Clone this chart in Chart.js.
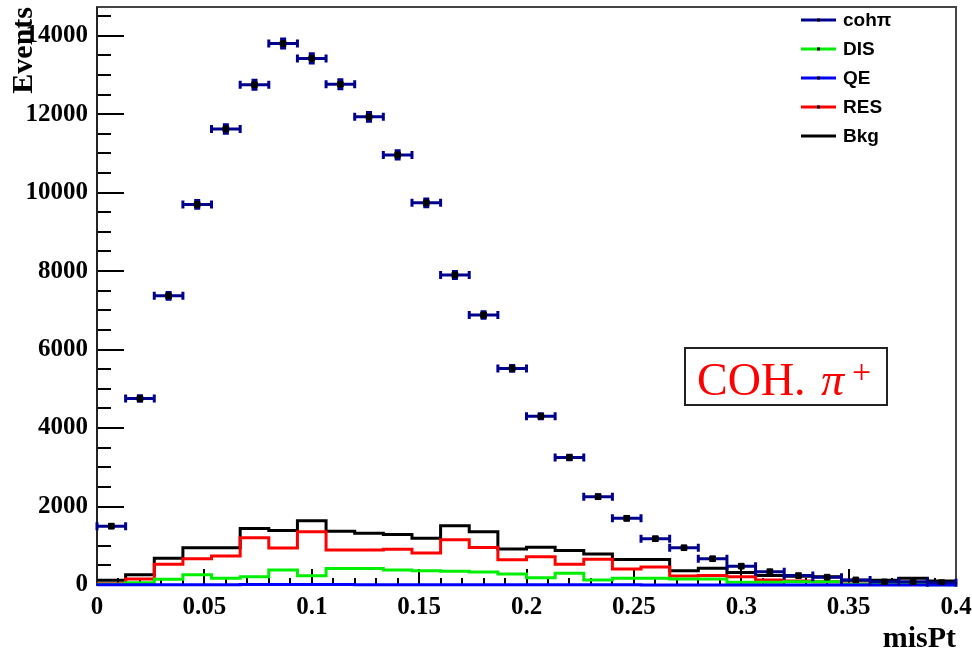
<!DOCTYPE html>
<html lang="en">
<head>
    <meta charset="UTF-8">
    <title>misPt</title>
    <script src="https://cdn.jsdelivr.net/npm/chart.js"></script>
    <style>
        body { margin: 0; background: #fff; }
        #chart { display: block; }
    </style>
</head>
<body>
    <canvas id="chart" width="972" height="657"></canvas>
    <script>
        // misPt binning: 30 bins between 0 and 0.4
        const binEdges = [0, 0.01333, 0.02667, 0.04, 0.05333, 0.06667, 0.08, 0.09333, 0.10667, 0.12,
                          0.13333, 0.14667, 0.16, 0.17333, 0.18667, 0.2, 0.21333, 0.22667, 0.24, 0.25333,
                          0.26667, 0.28, 0.29333, 0.30667, 0.32, 0.33333, 0.34667, 0.36, 0.37333, 0.38667, 0.4];

        // coherent pion sample (points with errors)
        const cohPi    = [1500, 4750, 7370, 9700, 11620, 12750, 13800, 13420, 12760, 11930,
                          10960, 9740, 7900, 6880, 5520, 4300, 3250, 2250, 1700, 1180,
                          950, 670, 480, 340, 240, 200, 130, 80, 80, 60];
        const cohPiErr = [40, 70, 86, 98, 108, 113, 117, 116, 113, 109,
                          105, 99, 89, 83, 74, 66, 57, 47, 41, 34,
                          31, 26, 22, 18, 15, 14, 11, 9, 9, 8];

        // backgrounds
        const dis = [20, 60, 145, 260, 170, 212, 380, 237, 420, 420,
                     380, 365, 350, 330, 280, 187, 297, 127, 170, 175,
                     153, 153, 70, 70, 85, 80, 20, 15, 10, 5];
        const qe  = [4, 5, 6, 8, 8, 10, 10, 10, 10, 8,
                     8, 8, 6, 6, 5, 5, 4, 4, 4, 3,
                     3, 3, 2, 2, 2, 2, 1, 1, 1, 1];
        const res = [30, 150, 530, 670, 740, 1206, 940, 1358, 890, 890,
                     910, 815, 1155, 955, 645, 722, 527, 655, 410, 460,
                     230, 240, 210, 127, 100, 85, 25, 15, 42, 20];
        const bkg = [120, 260, 680, 950, 950, 1440, 1390, 1640, 1370, 1320,
                     1290, 1190, 1510, 1360, 920, 960, 880, 790, 650, 650,
                     365, 425, 320, 240, 220, 210, 120, 120, 170, 100];

        // tick labels
        const xTicks = [0, 0.05, 0.1, 0.15, 0.2, 0.25, 0.3, 0.35, 0.4];
        const yTicks = [0, 2000, 4000, 6000, 8000, 10000, 12000, 14000];
        const yMax = 14730;

        const serif = "'Liberation Serif', 'Times New Roman', serif";
        const sans = "'Liberation Sans', Arial, sans-serif";
        const navy = '#00008f';

        const binCenters = binEdges.slice(0, -1).map((e, i) => (e + binEdges[i + 1]) / 2);

        // histogram as a step line: one point per left edge plus the closing edge
        function stepData(values) {
            const pts = values.map((v, i) => ({ x: binEdges[i], y: v }));
            pts.push({ x: binEdges[binEdges.length - 1], y: values[values.length - 1] });
            return pts;
        }

        function histo(label, values, color, order) {
            return {
                label: label,
                data: stepData(values),
                borderColor: color,
                backgroundColor: color,
                borderWidth: 3,
                borderJoinStyle: 'miter',
                stepped: 'before',
                pointRadius: 0,
                fill: false,
                clip: 3,
                order: order
            };
        }

        // axis frame and inward ticks
        const frame = {
            id: 'frame',
            beforeDatasetsDraw(chart) {
                const { ctx, chartArea: a, scales: { x, y } } = chart;
                ctx.save();
                ctx.strokeStyle = '#000';
                ctx.lineWidth = 2;
                ctx.beginPath();
                for (let v = 0; v <= yMax; v += 500) {
                    const py = Math.round(y.getPixelForValue(v));
                    const len = v % 2000 === 0 ? 27 : 14;
                    ctx.moveTo(a.left, py);
                    ctx.lineTo(a.left + len, py);
                }
                for (let k = 0; k <= 40; k++) {
                    const px = Math.round(x.getPixelForValue(k / 100));
                    const len = k % 5 === 0 ? 16 : 7;
                    ctx.moveTo(px, a.bottom);
                    ctx.lineTo(px, a.bottom - len);
                }
                ctx.stroke();

                ctx.strokeStyle = '#444';
                ctx.strokeRect(a.left, a.top, a.width, a.height);
                ctx.strokeStyle = '#222';
                ctx.beginPath();
                ctx.moveTo(a.left, a.top);
                ctx.lineTo(a.left, a.bottom);
                ctx.lineTo(a.right, a.bottom);
                ctx.stroke();
                ctx.restore();
            }
        };

        // horizontal (bin width) and vertical (stat.) error bars for the points
        const errorBars = {
            id: 'errorBars',
            beforeDatasetDraw(chart, args) {
                if (args.index !== 0) return;
                const { ctx, scales: { x, y } } = chart;
                ctx.save();
                ctx.strokeStyle = navy;
                ctx.lineWidth = 3;
                ctx.beginPath();
                cohPi.forEach((v, i) => {
                    const x0 = x.getPixelForValue(binEdges[i]);
                    const x1 = x.getPixelForValue(binEdges[i + 1]);
                    const xc = x.getPixelForValue(binCenters[i]);
                    const yc = y.getPixelForValue(v);
                    const yl = y.getPixelForValue(v - cohPiErr[i]);
                    const yh = y.getPixelForValue(v + cohPiErr[i]);
                    ctx.moveTo(x0, yc); ctx.lineTo(x1, yc);
                    ctx.moveTo(x0, yc - 4); ctx.lineTo(x0, yc + 4);
                    ctx.moveTo(x1, yc - 4); ctx.lineTo(x1, yc + 4);
                    ctx.moveTo(xc, yl); ctx.lineTo(xc, yh);
                    ctx.moveTo(xc - 3, yl); ctx.lineTo(xc + 3, yl);
                    ctx.moveTo(xc - 3, yh); ctx.lineTo(xc + 3, yh);
                });
                ctx.stroke();
                ctx.restore();
            }
        };

        // legend in the top right corner
        const legendBox = {
            id: 'legendBox',
            afterDraw(chart) {
                const ctx = chart.ctx;
                ctx.save();
                ctx.font = `bold 19px ${sans}`;
                ctx.textBaseline = 'middle';
                chart.data.datasets.forEach((ds, i) => {
                    const yy = 20 + i * 29;
                    ctx.strokeStyle = ds.legendColor || ds.borderColor;
                    ctx.lineWidth = 3;
                    ctx.beginPath();
                    ctx.moveTo(801, yy);
                    ctx.lineTo(836, yy);
                    ctx.stroke();
                    if (i < 4) {
                        ctx.fillStyle = '#000';
                        ctx.fillRect(817, yy - 1.5, 3, 3);
                    }
                    ctx.fillStyle = '#000';
                    ctx.fillText(ds.label, 843, yy + 1);
                });
                ctx.restore();
            }
        };

        // sample label: "COH. π⁺" in a framed box
        const sampleLabel = {
            id: 'sampleLabel',
            afterDraw(chart) {
                const ctx = chart.ctx;
                ctx.save();
                ctx.fillStyle = '#fff';
                ctx.fillRect(685, 348, 202, 57);
                ctx.strokeStyle = '#222';
                ctx.lineWidth = 2;
                ctx.strokeRect(685, 348, 202, 57);
                ctx.fillStyle = '#ff0000';
                ctx.textBaseline = 'alphabetic';
                ctx.font = `46px ${serif}`;
                ctx.fillText('COH.', 697, 395);
                ctx.font = `italic 46px ${serif}`;
                ctx.fillText('\u03c0', 821, 395);
                ctx.font = `34px ${serif}`;
                ctx.fillText('+', 852, 383);
                ctx.restore();
            }
        };

        new Chart(document.getElementById('chart'), {
            type: 'line',
            data: {
                datasets: [
                    {
                        label: 'coh\u03c0',
                        data: cohPi.map((v, i) => ({ x: binCenters[i], y: v })),
                        showLine: false,
                        pointStyle: 'rect',
                        pointRadius: 4,
                        backgroundColor: '#000',
                        borderColor: navy,
                        pointBorderColor: '#000',
                        legendColor: navy,
                        order: 0
                    },
                    histo('DIS', dis, '#00ee00', 2),
                    histo('QE', qe, '#0000ff', 1),
                    histo('RES', res, '#ff0000', 3),
                    histo('Bkg', bkg, '#000000', 4)
                ]
            },
            options: {
                responsive: false,
                animation: false,
                devicePixelRatio: 1,
                layout: { padding: { top: 7, right: 16, left: 0, bottom: 0 } },
                plugins: {
                    legend: { display: false },
                    tooltip: { enabled: false }
                },
                scales: {
                    x: {
                        type: 'linear',
                        min: 0,
                        max: 0.4,
                        afterBuildTicks(scale) { scale.ticks = xTicks.map(v => ({ value: v })); },
                        afterFit(scale) {
                            scale.height = 72;
                            scale.paddingLeft = 0;
                            scale.paddingRight = 0;
                        },
                        grid: { display: false, drawTicks: false },
                        border: { display: false },
                        ticks: {
                            maxRotation: 0,
                            autoSkip: false,
                            padding: 8,
                            color: '#000',
                            font: { family: serif, size: 25, weight: 'bold' },
                            callback: v => String(v)
                        },
                        title: {
                            display: true,
                            text: 'misPt',
                            align: 'end',
                            color: '#000',
                            padding: { top: 0, bottom: 0 },
                            font: { family: serif, size: 30, weight: 'bold' }
                        }
                    },
                    y: {
                        type: 'linear',
                        min: 0,
                        max: yMax,
                        afterBuildTicks(scale) { scale.ticks = yTicks.map(v => ({ value: v })); },
                        afterFit(scale) {
                            scale.width = 97;
                            scale.paddingTop = 0;
                            scale.paddingBottom = 0;
                        },
                        grid: { display: false, drawTicks: false },
                        border: { display: false },
                        ticks: {
                            autoSkip: false,
                            padding: 9,
                            color: '#000',
                            font: { family: serif, size: 25, weight: 'bold' },
                            callback: v => String(v)
                        },
                        title: {
                            display: true,
                            text: 'Events',
                            align: 'end',
                            color: '#000',
                            padding: { top: 6, bottom: 0 },
                            font: { family: serif, size: 30, weight: 'bold' }
                        }
                    }
                }
            },
            plugins: [frame, errorBars, legendBox, sampleLabel]
        });
    </script>
</body>
</html>
